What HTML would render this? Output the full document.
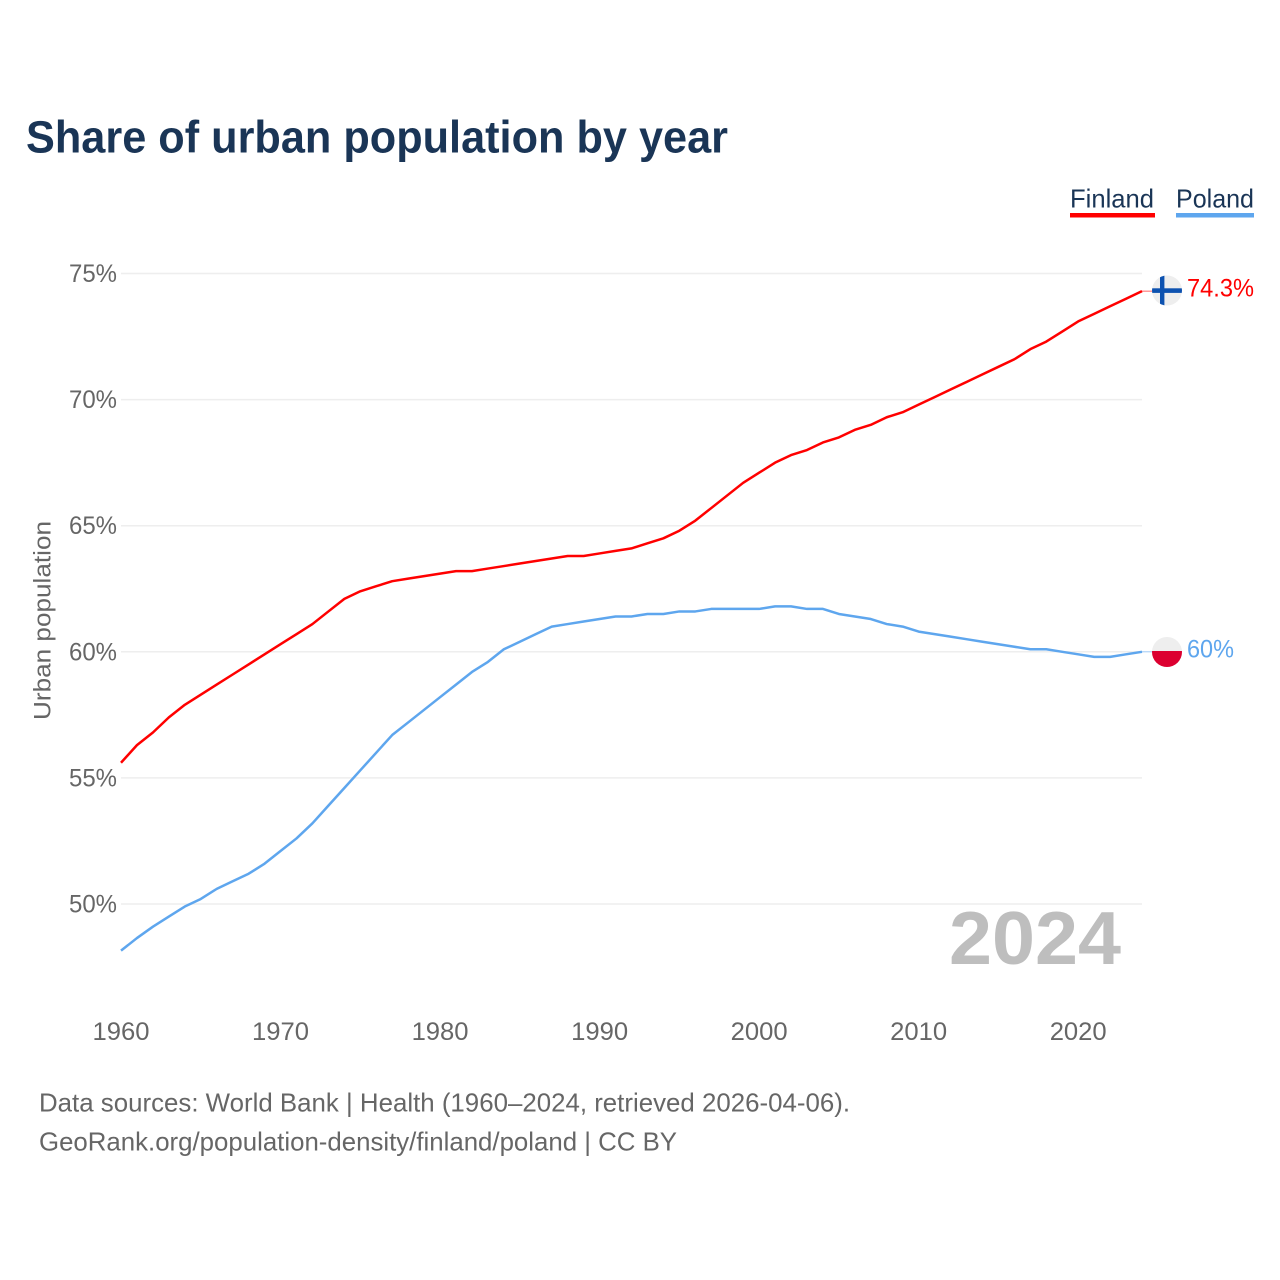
<!DOCTYPE html>
<html lang="en">
<head>
<meta charset="utf-8">
<title>Share of urban population by year</title>
<style>
  html, body { margin: 0; padding: 0; background: #fff; }
  svg { display: block; font-family: "Liberation Sans", sans-serif; }
</style>
</head>
<body>
<svg id="chart" xmlns="http://www.w3.org/2000/svg" width="1280" height="1280" viewBox="0 0 1280 1280">
  <rect width="1280" height="1280" fill="#ffffff"/>
  <text x="26" y="152.5" font-size="45" font-weight="700" fill="#1a3556" textLength="702" lengthAdjust="spacingAndGlyphs">Share of urban population by year</text>

  <text x="1070" y="207.5" font-size="26" fill="#1a3556" textLength="84" lengthAdjust="spacingAndGlyphs">Finland</text>
  <rect x="1070" y="213" width="85" height="4.5" fill="#ff0000"/>
  <text x="1176" y="207.5" font-size="26" fill="#1a3556" textLength="78" lengthAdjust="spacingAndGlyphs">Poland</text>
  <rect x="1176" y="213" width="78" height="4.5" fill="#5ea6ee"/>

  <g id="grid"></g>
  <g id="yticks"></g>
  <g id="xticks"></g>

  <text transform="translate(50.5,720) rotate(-90)" font-size="24.5" fill="#666666" textLength="199" lengthAdjust="spacingAndGlyphs">Urban population</text>

  <text x="949" y="964" font-size="75" font-weight="700" fill="#bebebe" textLength="172" lengthAdjust="spacingAndGlyphs">2024</text>

  <g id="series"></g>

  <g>
    <clipPath id="fi-clip"><circle cx="1167" cy="290.5" r="15"/></clipPath>
    <circle cx="1167" cy="290.5" r="15" fill="#eeeeee"/>
    <g clip-path="url(#fi-clip)">
      <rect x="1152" y="288.3" width="30" height="4.6" fill="#0d52b0"/>
      <rect x="1160" y="275" width="4.4" height="31" fill="#0d52b0"/>
    </g>
  </g>
  <g>
    <clipPath id="pl-clip"><circle cx="1167" cy="652" r="15"/></clipPath>
    <circle cx="1167" cy="652" r="15" fill="#eeeeee"/>
    <rect x="1152" y="651" width="30" height="17" fill="#dc0030" clip-path="url(#pl-clip)"/>
  </g>

  <text x="1187" y="296.5" font-size="25" fill="#ff0000" textLength="67" lengthAdjust="spacingAndGlyphs">74.3%</text>
  <text x="1187" y="657.5" font-size="25" fill="#5ea6ee" textLength="47" lengthAdjust="spacingAndGlyphs">60%</text>

  <text x="39" y="1111.5" font-size="26" fill="#666666" textLength="811" lengthAdjust="spacingAndGlyphs">Data sources: World Bank | Health (1960–2024, retrieved 2026-04-06).</text>
  <text x="39" y="1150.5" font-size="26" fill="#666666" textLength="638" lengthAdjust="spacingAndGlyphs">GeoRank.org/population-density/finland/poland | CC BY</text>
</svg>
<script>
const years = [1960,1961,1962,1963,1964,1965,1966,1967,1968,1969,1970,1971,1972,1973,1974,1975,1976,1977,1978,1979,1980,1981,1982,1983,1984,1985,1986,1987,1988,1989,1990,1991,1992,1993,1994,1995,1996,1997,1998,1999,2000,2001,2002,2003,2004,2005,2006,2007,2008,2009,2010,2011,2012,2013,2014,2015,2016,2017,2018,2019,2020,2021,2022,2023,2024];
const finland = [55.6,56.3,56.8,57.4,57.9,58.3,58.7,59.1,59.5,59.9,60.3,60.7,61.1,61.6,62.1,62.4,62.6,62.8,62.9,63.0,63.1,63.2,63.2,63.3,63.4,63.5,63.6,63.7,63.8,63.8,63.9,64.0,64.1,64.3,64.5,64.8,65.2,65.7,66.2,66.7,67.1,67.5,67.8,68.0,68.3,68.5,68.8,69.0,69.3,69.5,69.8,70.1,70.4,70.7,71.0,71.3,71.6,72.0,72.3,72.7,73.1,73.4,73.7,74.0,74.3];
const poland = [48.15,48.65,49.1,49.5,49.9,50.2,50.6,50.9,51.2,51.6,52.1,52.6,53.2,53.9,54.6,55.3,56.0,56.7,57.2,57.7,58.2,58.7,59.2,59.6,60.1,60.4,60.7,61.0,61.1,61.2,61.3,61.4,61.4,61.5,61.5,61.6,61.6,61.7,61.7,61.7,61.7,61.8,61.8,61.7,61.7,61.5,61.4,61.3,61.1,61.0,60.8,60.7,60.6,60.5,60.4,60.3,60.2,60.1,60.1,60.0,59.9,59.8,59.8,59.9,60.0];
const yTickValues = [50,55,60,65,70,75];
const yTickLabels = ["50%","55%","60%","65%","70%","75%"];
const xTickValues = [1960,1970,1980,1990,2000,2010,2020];
const xTickLabels = ["1960","1970","1980","1990","2000","2010","2020"];

const NS = "http://www.w3.org/2000/svg";
const plotLeft = 121, plotRight = 1142;
const xScale = function (year) { return plotLeft + (year - 1960) * (plotRight - plotLeft) / 64; };
const yScale = function (v) { return 651.8 - (v - 60) * 25.22; };

const grid = document.getElementById("grid");
const yticks = document.getElementById("yticks");
const xticks = document.getElementById("xticks");
const seriesGroup = document.getElementById("series");

yTickValues.forEach(function (v, i) {
  const line = document.createElementNS(NS, "line");
  
  
  line.setAttribute("x1", plotLeft);
  line.setAttribute("x2", plotRight);
  line.setAttribute("y1", yScale(v));
  line.setAttribute("y2", yScale(v));
  line.setAttribute("stroke", "#eeeeee");
  line.setAttribute("stroke-width", "1.5");
  grid.appendChild(line);

  const label = document.createElementNS(NS, "text");
  
  
  label.setAttribute("x", 69);
  label.setAttribute("y", yScale(v) + 8.5);
  label.setAttribute("font-size", "25");
  label.setAttribute("fill", "#666666");
  label.setAttribute("textLength", "48");
  label.setAttribute("lengthAdjust", "spacingAndGlyphs");
  label.textContent = yTickLabels[i];
  yticks.appendChild(label);
});

xTickValues.forEach(function (v, i) {
  const label = document.createElementNS(NS, "text");
  
  
  label.setAttribute("x", xScale(v) - 28.5);
  label.setAttribute("y", 1040);
  label.setAttribute("font-size", "25");
  label.setAttribute("fill", "#666666");
  label.setAttribute("textLength", "57");
  label.setAttribute("lengthAdjust", "spacingAndGlyphs");
  label.textContent = xTickLabels[i];
  xticks.appendChild(label);
});

function drawSeries(values, color, name) {
  const path = document.createElementNS(NS, "polyline");
  
  
  path.setAttribute("points", values.map(function (v, i) {
    return xScale(years[i]).toFixed(2) + "," + yScale(v).toFixed(2);
  }).join(" "));
  path.setAttribute("fill", "none");
  path.setAttribute("stroke", color);
  path.setAttribute("stroke-width", "2.5");
  path.setAttribute("stroke-linejoin", "round");
  seriesGroup.appendChild(path);

  const last = values[values.length - 1];
  const lead = document.createElementNS(NS, "line");
  
  
  lead.setAttribute("x1", plotRight);
  lead.setAttribute("x2", 1153);
  lead.setAttribute("y1", yScale(last));
  lead.setAttribute("y2", yScale(last));
  lead.setAttribute("stroke", color);
  lead.setAttribute("stroke-width", "1");
  lead.setAttribute("opacity", "0.6");
  seriesGroup.appendChild(lead);
}
drawSeries(finland, "#ff0000", "finland-line");
drawSeries(poland, "#5ea6ee", "poland-line");
</script>
</body>
</html>
